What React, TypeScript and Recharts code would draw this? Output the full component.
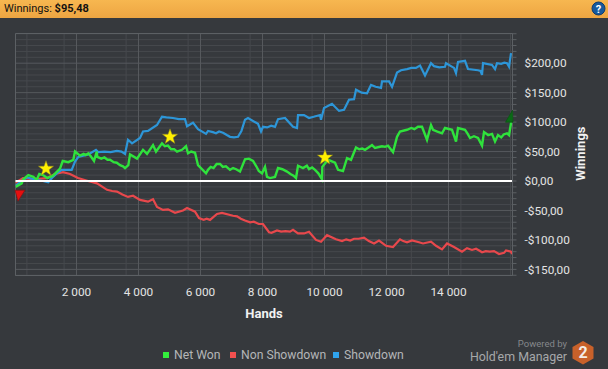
import {
  CartesianGrid,
  Label,
  Line,
  LineChart,
  ReferenceArea,
  ReferenceDot,
  ReferenceLine,
  XAxis,
  YAxis,
} from "recharts";

const FONT = "Roboto, sans-serif";

// [hands, dollars]
const netWon = [
  [32, -10], [232, -4], [284, 3], [445, 10], [606, 7], [716, 2], [800, 12], [919, 10], [1058, 5], [1242, 9],
  [1468, 21], [1555, 34], [1735, 32], [1897, 36], [1952, 50], [2113, 43], [2230, 46], [2300, 44], [2381, 47],
  [2460, 42], [2565, 34], [2652, 50], [2671, 41], [2800, 38], [2900, 40], [3000, 36], [3081, 36], [3200, 32],
  [3300, 31], [3403, 27], [3500, 25], [3565, 22], [3671, 27], [3726, 45], [3952, 38], [4145, 53], [4274, 46],
  [4468, 61], [4565, 50], [4758, 64], [4850, 59], [4950, 60], [5050, 54], [5150, 54], [5242, 50], [5403, 53],
  [5532, 59], [5597, 47], [5700, 50], [5823, 48], [5919, 27], [6178, 13], [6242, 19], [6330, 24], [6420, 22],
  [6520, 29], [6629, 29], [6720, 24], [6820, 25], [6952, 19], [7050, 22], [7150, 20], [7274, 16], [7435, 37],
  [7560, 38], [7694, 34], [7800, 25], [7880, 17], [7984, 13], [8081, 24], [8145, 7], [8242, 5], [8403, 7],
  [8500, 22], [8640, 20], [8790, 16], [8900, 12], [9000, 9], [9081, 5], [9145, 26], [9306, 22], [9430, 26],
  [9500, 20], [9600, 23], [9694, 19], [9800, 13], [9919, 3], [9929, 24], [10113, 36], [10339, 31], [10436, 19],
  [10597, 17], [10726, 39], [10855, 36], [11016, 57], [11120, 54], [11220, 55], [11306, 53], [11420, 57],
  [11532, 61], [11629, 56], [11855, 59], [11952, 58], [12048, 60], [12210, 49], [12339, 75], [12435, 84],
  [12661, 87], [12800, 90], [12900, 88], [13016, 92], [13145, 92], [13306, 70], [13435, 95], [13500, 87],
  [13640, 84], [13790, 81], [13887, 90], [14113, 87], [14242, 67], [14306, 90], [14532, 87], [14620, 80],
  [14694, 73], [14820, 76], [14952, 73], [15081, 60], [15145, 83], [15280, 78], [15403, 80], [15500, 67],
  [15597, 78], [15700, 74], [15780, 79], [15887, 81], [15952, 78], [16016, 98], [16050, 105],
];

const nonShowdown = [
  [32, -3], [274, 5], [597, 3], [1048, 5], [1306, 12], [1565, 15], [1790, 12], [2048, 5], [2371, 0], [2661, -4],
  [2984, -15], [3150, -17], [3306, -18], [3480, -23], [3661, -27], [3823, -25], [4048, -32], [4306, -35],
  [4468, -31], [4597, -44], [4790, -49], [4952, -48], [5178, -54], [5435, -50], [5565, -46], [5823, -52],
  [5952, -63], [6100, -66], [6200, -64], [6307, -66], [6532, -56], [6694, -54], [7048, -59], [7180, -60],
  [7300, -64], [7435, -67], [7600, -70], [7720, -69], [7880, -73], [8016, -73], [8210, -87], [8290, -88],
  [8468, -84], [8600, -86], [8740, -85], [8887, -86], [8984, -83], [9145, -89], [9339, -89], [9500, -86],
  [9726, -100], [9887, -103], [10081, -92], [10371, -99], [10565, -102], [10700, -99], [10830, -101],
  [10952, -98], [11100, -98], [11274, -96], [11430, -102], [11597, -106], [11758, -101], [11984, -110],
  [12210, -112], [12435, -99], [12540, -102], [12661, -104], [12823, -101], [13048, -104], [13177, -106],
  [13435, -103], [13597, -110], [13790, -116], [13952, -106], [14177, -112], [14435, -120], [14597, -114],
  [14758, -117], [14887, -115], [14990, -118], [15081, -121], [15200, -119], [15330, -120], [15468, -119],
  [15629, -124], [15790, -122], [15855, -118], [16016, -120], [16050, -124],
];

const showdown = [
  [32, -8], [284, 2], [394, 6], [716, 2], [919, 0], [1090, -2], [1242, 7], [1361, 13], [1523, 19], [1845, 19],
  [1952, 33], [2058, 41], [2381, 45], [2629, 53], [2703, 49], [2900, 50], [3100, 49], [3300, 51], [3450, 50],
  [3565, 46], [3661, 70], [3790, 64], [4048, 73], [4145, 84], [4306, 85], [4597, 95], [4758, 109], [4900, 108],
  [5113, 107], [5300, 105], [5500, 105], [5565, 93], [5758, 99], [5919, 88], [6178, 80], [6242, 85], [6400, 83],
  [6500, 81], [6600, 84], [6726, 82], [6850, 78], [6952, 75], [7080, 74], [7210, 75], [7320, 85], [7435, 104],
  [7532, 107], [7855, 97], [7952, 84], [8016, 92], [8150, 91], [8280, 94], [8403, 92], [8500, 105], [8726, 107],
  [8984, 92], [9113, 90], [9145, 112], [9339, 112], [9500, 107], [9650, 109], [9855, 112], [9887, 104], [9984, 124],
  [10242, 131], [10468, 119], [10629, 121], [10790, 138], [10952, 139], [11016, 155], [11200, 150], [11371, 149],
  [11500, 163], [11650, 160], [11823, 158], [11855, 169], [12081, 169], [12178, 160], [12339, 184], [12468, 188],
  [12661, 190], [12800, 192], [12950, 192], [13081, 196], [13242, 179], [13435, 200], [13532, 195], [13700, 193],
  [13887, 194], [13919, 200], [14177, 192], [14242, 183], [14306, 202], [14532, 204], [14629, 190], [14952, 188],
  [15030, 187], [15081, 180], [15113, 200], [15403, 197], [15500, 190], [15565, 200], [15700, 199], [15800, 201],
  [15887, 200], [15952, 194], [16016, 217],
];

const starMarkers = [[1016, 21], [5016, 75], [10016, 40]];
const lossMarker = [113, -24];
const winMarker = [16048, 110];

const handTicks = [2000, 4000, 6000, 8000, 10000, 12000, 14000];
const handMinor = [400, 800, 1200, 1600, 2400, 2800, 3200, 3600, 4400, 4800, 5200, 5600, 6400, 6800, 7200, 7600, 8400, 8800, 9200, 9600, 10400, 10800, 11200, 11600, 12400, 12800, 13200, 13600, 14400, 14800, 15200, 15600, 16000];
const dollarTicks = [-150, -100, -50, 0, 50, 100, 150, 200];
const dollarMinor = [-160, -140, -130, -120, -110, -90, -80, -70, -60, -40, -30, -20, -10, 10, 20, 30, 40, 60, 70, 80, 90, 110, 120, 130, 140, 160, 170, 180, 190, 210, 220, 230, 240, 250];

const legendItems = [
  { name: "Net Won", color: "#33ee3c", box: 163, text: 174 },
  { name: "Non Showdown", color: "#f2504f", box: 230, text: 241 },
  { name: "Showdown", color: "#2fa3ee", box: 333, text: 344 },
];

const toPoints = (rows: number[][]) => rows.map(([hand, value]) => ({ hand, value }));

const formatHands = (v: number) => String(v).replace(/(\d)(\d{3})$/, "$1 $2");
const formatDollars = (v: number) => {
  if (!dollarTicks.includes(v)) return "";
  return `${v < 0 ? "-" : ""}$${Math.abs(v)},00`;
};

function Star({ cx, cy }: any) {
  const pts = "0,-8 2,-2.5 7.6,-2.5 3.2,1 4.8,6.6 0,3.2 -4.8,6.6 -3.2,1 -7.6,-2.5 -2,-2.5";
  return <polygon transform={`translate(${cx},${cy})`} points={pts} fill="#fff000" stroke="#8a8420" strokeWidth={0.5} />;
}

function LossTriangle({ cx, cy }: any) {
  return <polygon transform={`translate(${cx},${cy})`} points="-3,-5 7,-5 0,6" fill="#e60f0f" stroke="#7c1414" strokeWidth={0.7} />;
}

function WinTriangle({ cx, cy }: any) {
  return <polygon transform={`translate(${cx},${cy})`} points="-6.5,6 1,6 0.5,-6" fill="#0a6a16" stroke="#0b5513" strokeWidth={0.7} />;
}

export default function App() {
  return (
    <div style={{ position: "absolute", left: 0, top: 0, width: 608, height: 369, background: "#36393d", overflow: "hidden", fontFamily: FONT }}>
      <div style={{ position: "absolute", left: 0, top: 0, width: 608, height: 18, background: "linear-gradient(#f7b750, #eda542)", fontSize: 11, lineHeight: "18px", color: "#111", paddingLeft: 4, boxSizing: "border-box" }}>
        Winnings: <b>$95,48</b>
      </div>
      <svg width={16} height={16} style={{ position: "absolute", left: 591, top: 1 }}>
        <circle cx={7.5} cy={7.5} r={6.5} fill="#17599d" stroke="#0d3b6e" />
        <text x={7.5} y={11.5} textAnchor="middle" fontSize={11} fontWeight={700} fill="#fff" fontFamily={FONT}>?</text>
      </svg>

      <LineChart width={608} height={369} margin={{ top: 33.5, left: 15.5, right: 15.5, bottom: 49.5 }} style={{ position: "absolute", left: 0, top: 0 }}>
        <CartesianGrid stroke="#46494d" verticalValues={handMinor} horizontalValues={dollarMinor} />
        <CartesianGrid stroke="#56595d" verticalValues={handTicks} horizontalValues={dollarTicks} />
        <XAxis
          type="number"
          dataKey="hand"
          domain={[32, 16064]}
          ticks={handTicks}
          tickFormatter={formatHands}
          allowDataOverflow
          height={44}
          tickLine={false}
          tickMargin={6}
          stroke="#5c6064"
          tick={{ fill: "#e4e4e4", fontSize: 11.8, fontFamily: FONT }}
        >
          <Label value="Hands" position="insideBottom" offset={2} fill="#f2f2f2" fontSize={13} fontWeight={700} fontFamily={FONT} />
        </XAxis>
        <YAxis
          orientation="right"
          type="number"
          domain={[-160.4, 250.4]}
          ticks={[...dollarMinor, ...dollarTicks].sort((a, b) => a - b)}
          interval={0}
          tickFormatter={formatDollars}
          allowDataOverflow
          width={80}
          tickSize={4}
          tickMargin={8}
          stroke="#5c6064"
          tick={{ fill: "#e4e4e4", fontSize: 11.8, fontFamily: FONT }}
        >
          <Label value="Winnings" angle={-90} position="insideRight" offset={12} dy={-28} fill="#f2f2f2" fontSize={13} fontWeight={700} fontFamily={FONT} />
        </YAxis>
        <ReferenceArea x1={32} x2={16064} y1={-160.4} y2={250.4} fill="none" stroke="#5c6064" ifOverflow="visible" />
        <Line data={toPoints(nonShowdown)} dataKey="value" name="Non Showdown" stroke="#e8484c" strokeWidth={2.2} dot={false} isAnimationActive={false} />
        <Line data={toPoints(showdown)} dataKey="value" name="Showdown" stroke="#2d96d8" strokeWidth={2.2} dot={false} isAnimationActive={false} />
        <Line data={toPoints(netWon)} dataKey="value" name="Net Won" stroke="#2fe23c" strokeWidth={2.4} dot={false} isAnimationActive={false} />
        <ReferenceLine y={0} stroke="#ffffff" strokeWidth={2} />
        {starMarkers.map(([hand, value]) => (
          <ReferenceDot key={hand} x={hand} y={value} ifOverflow="visible" shape={Star} />
        ))}
        <ReferenceDot x={lossMarker[0]} y={lossMarker[1]} ifOverflow="visible" shape={LossTriangle} />
        <ReferenceDot x={winMarker[0]} y={winMarker[1]} ifOverflow="visible" shape={WinTriangle} />
      </LineChart>

      {legendItems.map((item) => (
        <div key={item.name}>
          <div style={{ position: "absolute", left: item.box, top: 352, width: 6, height: 6, background: item.color }} />
          <div style={{ position: "absolute", left: item.text, top: 347, fontSize: 12.2, lineHeight: "16px", color: "#b4b6b8" }}>{item.name}</div>
        </div>
      ))}

      <div style={{ position: "absolute", right: 41, top: 337, fontSize: 9.5, lineHeight: "14px", color: "#85888b" }}>Powered by</div>
      <div style={{ position: "absolute", right: 41, top: 348, fontSize: 12.4, lineHeight: "18px", color: "#a6a8aa" }}>Hold'em Manager</div>
      <svg width={24} height={26} style={{ position: "absolute", left: 571, top: 340 }}>
        <polygon points="12,1 22.5,7 22.5,18.5 12,24.5 1.5,18.5 1.5,7" fill="#c8612a" />
        <text x={12} y={18} textAnchor="middle" fontSize={16} fontWeight={700} fill="#f4ece6" fontFamily={FONT}>2</text>
      </svg>
    </div>
  );
}
